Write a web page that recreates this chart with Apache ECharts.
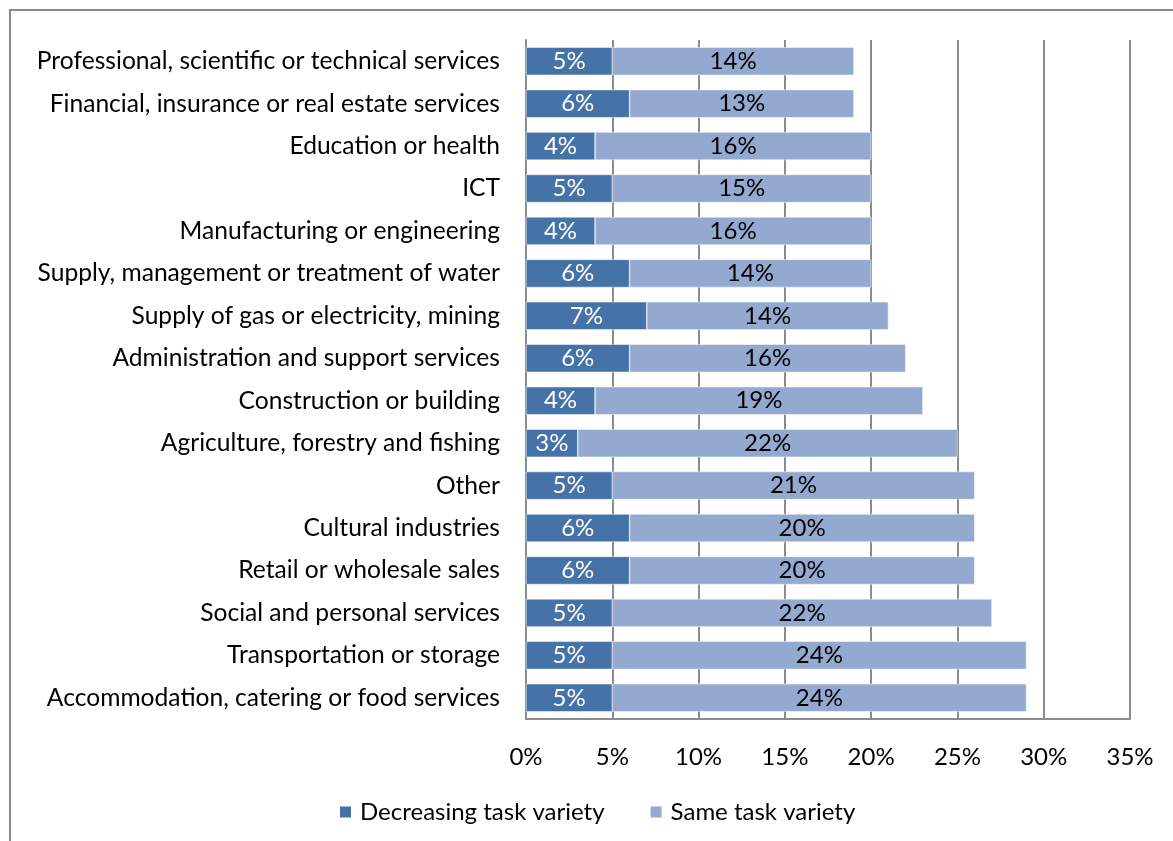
<!DOCTYPE html>
<html>
<head>
<meta charset="utf-8">
<script src="https://cdn.jsdelivr.net/npm/echarts@6/dist/echarts.min.js"></script>
<style>
  html, body { margin: 0; padding: 0; background: #ffffff; }
  #chart { width: 1173px; height: 841px; }
</style>
</head>
<body>
<div id="chart"></div>
<script>
// Sectors, listed top to bottom
const sectors = [
  'Professional, scientific or technical services',
  'Financial, insurance or real estate services',
  'Education or health',
  'ICT',
  'Manufacturing or engineering',
  'Supply, management or treatment of water',
  'Supply of gas or electricity, mining',
  'Administration and support services',
  'Construction or building',
  'Agriculture, forestry and fishing',
  'Other',
  'Cultural industries',
  'Retail or wholesale sales',
  'Social and personal services',
  'Transportation or storage',
  'Accommodation, catering or food services'
];

// Share of respondents (%) per sector
const decreasingVariety = [5, 6, 4, 5, 4, 6, 7, 6, 4, 3, 5, 6, 6, 5, 5, 5];
const sameVariety = [14, 13, 16, 15, 16, 14, 14, 16, 19, 22, 21, 20, 20, 22, 24, 24];

const seriesNames = ['Decreasing task variety', 'Same task variety'];
const xTicks = [0, 5, 10, 15, 20, 25, 30, 35];

const FONT = 'Lato, "Open Sans", sans-serif';
const GRID_COLOR = '#8c8c8c';

const chart = echarts.init(document.getElementById('chart'), null, { renderer: 'canvas' });

chart.setOption({
  backgroundColor: '#ffffff',
  animation: false,
  textStyle: { fontFamily: FONT },
  grid: { left: 526, right: 43, top: 40, bottom: 122, containLabel: false },
  legend: {
    data: seriesNames,
    bottom: 12,
    left: 333,
    itemWidth: 13,
    itemHeight: 13,
    itemGap: 44,
    icon: 'rect',
    textStyle: { fontSize: 24, color: '#000', fontFamily: FONT, padding: [0, 0, 0, 3] }
  },
  xAxis: {
    type: 'value',
    min: xTicks[0],
    max: xTicks[xTicks.length - 1],
    interval: 5,
    axisLine: { show: true, lineStyle: { color: GRID_COLOR, width: 2 } },
    axisTick: { show: false },
    splitLine: { show: true, lineStyle: { color: GRID_COLOR, width: 2 } },
    axisLabel: {
      formatter: v => v + '%',
      fontSize: 24,
      color: '#000',
      margin: 26,
      fontFamily: FONT
    }
  },
  yAxis: {
    type: 'category',
    data: sectors,
    inverse: true,
    axisLine: { show: true, lineStyle: { color: GRID_COLOR, width: 2 } },
    axisTick: { show: false },
    splitLine: { show: false },
    axisLabel: { fontSize: 24.6, color: '#000', margin: 26, fontFamily: FONT }
  },
  series: [
    {
      name: seriesNames[0],
      type: 'bar',
      stack: 'total',
      data: decreasingVariety,
      barCategoryGap: '34%',
      itemStyle: { color: '#4572a7', borderColor: '#ffffff', borderWidth: 0.5 },
      label: {
        show: true,
        position: 'inside',
        formatter: p => p.value + '%',
        color: '#ffffff',
        fontSize: 24,
        fontFamily: FONT
      }
    },
    {
      name: seriesNames[1],
      type: 'bar',
      stack: 'total',
      data: sameVariety,
      barCategoryGap: '34%',
      itemStyle: { color: '#94a9d0', borderColor: '#ffffff', borderWidth: 0.5 },
      label: {
        show: true,
        position: 'inside',
        formatter: p => p.value + '%',
        color: '#000000',
        fontSize: 24,
        fontFamily: FONT
      }
    }
  ],
  graphic: [
    {
      type: 'polyline',
      silent: true,
      shape: { points: [[10, 841], [10, 10], [1173, 10]] },
      style: { stroke: '#8a8a8a', lineWidth: 2, fill: null }
    }
  ]
});
</script>
</body>
</html>
